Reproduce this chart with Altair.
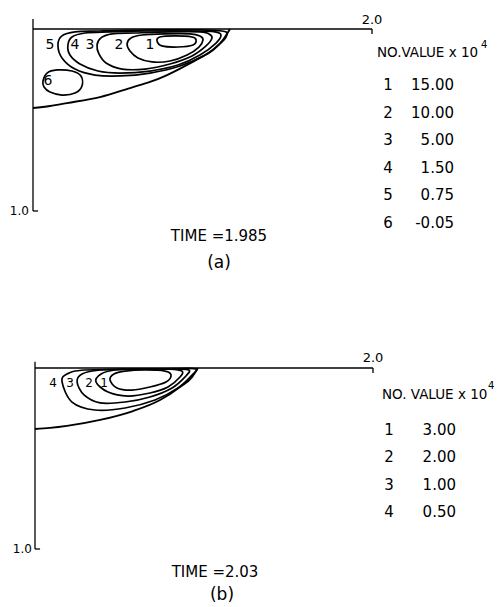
import altair as alt
import pandas as pd

FONT = "DejaVu Sans"

# ---------------- Panel (a): TIME = 1.985 ----------------
# coordinates: x along surface (0..2.0), d = depth downward (0..1.0)
a_outer_x = [0.000, 0.100, 0.201, 0.395, 0.590, 0.690, 0.791, 0.885, 0.985, 1.062, 1.121, 1.162]
a_outer_d = [0.434, 0.423, 0.407, 0.374, 0.319, 0.291, 0.253, 0.209, 0.159, 0.115, 0.060, 0.000]

a_c1_x = [0.732, 0.749, 0.838, 0.938, 0.962, 0.944, 0.855, 0.761]
a_c1_d = [0.066, 0.044, 0.038, 0.044, 0.060, 0.088, 0.099, 0.093]

a_c2_x = [0.555, 0.578, 0.643, 0.779, 0.926, 0.985, 1.003, 0.979, 0.909, 0.808, 0.702, 0.619, 0.572]
a_c2_d = [0.082, 0.049, 0.033, 0.027, 0.027, 0.038, 0.060, 0.099, 0.143, 0.176, 0.181, 0.159, 0.121]

a_c3_x = [0.378, 0.401, 0.466, 0.602, 0.808, 0.985, 1.038, 1.056, 1.021, 0.938, 0.808, 0.661, 0.525, 0.431, 0.389]
a_c3_d = [0.088, 0.049, 0.027, 0.022, 0.016, 0.016, 0.027, 0.049, 0.093, 0.148, 0.192, 0.220, 0.220, 0.187, 0.137]

a_c4_x = [0.206, 0.230, 0.307, 0.454, 0.690, 0.956, 1.074, 1.109, 1.080, 0.985, 0.855, 0.690, 0.513, 0.383, 0.277, 0.218]
a_c4_d = [0.088, 0.044, 0.022, 0.016, 0.011, 0.011, 0.016, 0.033, 0.077, 0.143, 0.198, 0.231, 0.242, 0.231, 0.192, 0.143]

a_c5_x = [0.147, 0.171, 0.248, 0.395, 0.690, 0.985, 1.115, 1.145, 1.115, 1.015, 0.867, 0.690, 0.513, 0.366, 0.248, 0.171]
a_c5_d = [0.088, 0.038, 0.016, 0.011, 0.005, 0.005, 0.011, 0.027, 0.071, 0.143, 0.203, 0.242, 0.258, 0.253, 0.220, 0.159]

a_c6_x = [0.059, 0.083, 0.142, 0.230, 0.283, 0.289, 0.248, 0.171, 0.100, 0.065]
a_c6_d = [0.286, 0.242, 0.225, 0.231, 0.258, 0.313, 0.352, 0.363, 0.346, 0.319]

a_lab_text = ["5", "4", "3", "2", "1", "6"]
a_lab_x = [0.100, 0.248, 0.336, 0.507, 0.690, 0.088]
a_lab_d = [0.088, 0.088, 0.088, 0.088, 0.088, 0.286]

a_leg_no = ["1", "2", "3", "4", "5", "6"]
a_leg_val = ["15.00", "10.00", "5.00", "1.50", "0.75", "-0.05"]

# ---------------- Panel (b): TIME = 2.03 ----------------
b_outer_x = [0.000, 0.089, 0.189, 0.385, 0.580, 0.740, 0.858, 0.929, 0.964]
b_outer_d = [0.337, 0.331, 0.320, 0.287, 0.238, 0.177, 0.105, 0.050, 0.000]

b_c1_x = [0.444, 0.467, 0.533, 0.651, 0.769, 0.805, 0.775, 0.680, 0.574, 0.485]
b_c1_d = [0.066, 0.033, 0.017, 0.011, 0.017, 0.039, 0.077, 0.105, 0.122, 0.110]

b_c2_x = [0.361, 0.391, 0.473, 0.621, 0.799, 0.870, 0.858, 0.787, 0.680, 0.550, 0.432]
b_c2_d = [0.077, 0.033, 0.011, 0.006, 0.006, 0.017, 0.050, 0.105, 0.138, 0.155, 0.133]

b_c3_x = [0.249, 0.278, 0.385, 0.621, 0.828, 0.911, 0.893, 0.811, 0.680, 0.533, 0.385, 0.290]
b_c3_d = [0.077, 0.033, 0.011, 0.006, 0.006, 0.011, 0.044, 0.110, 0.160, 0.188, 0.193, 0.149]

b_c4_x = [0.160, 0.189, 0.296, 0.621, 0.858, 0.953, 0.929, 0.846, 0.710, 0.533, 0.355, 0.219]
b_c4_d = [0.077, 0.033, 0.011, 0.006, 0.003, 0.006, 0.039, 0.110, 0.177, 0.221, 0.232, 0.188]

b_lab_text = ["4", "3", "2", "1"]
b_lab_x = [0.107, 0.207, 0.320, 0.408]
b_lab_d = [0.083, 0.083, 0.083, 0.083]

b_leg_no = ["1", "2", "3", "4"]
b_leg_val = ["3.00", "2.00", "1.00", "0.50"]

# axis extent (data units)
x_end = 2.0
d_end = 1.0


def contours_df(pairs):
    rows = []
    for cid, (xs, ds) in enumerate(pairs):
        for k, (x, d) in enumerate(zip(xs, ds)):
            rows.append({"x": x, "d": d, "cid": cid, "ord": k})
    return pd.DataFrame(rows)


def panel(outer_x, outer_d, contours, lab_text, lab_x, lab_d, lab_size,
          leg_no, leg_val, header, time_text, tag,
          xsc, ysc, W, H, lay):
    X = lambda f: alt.X(f, type="quantitative", scale=xsc, axis=None)
    Y = lambda f: alt.Y(f, type="quantitative", scale=ysc, axis=None)
    layers = []

    # frame (top surface line, left depth line and small end ticks)
    frame = pd.DataFrame({
        "x": [0.0, 0.0, 0.0, x_end],
        "x2": [x_end, 0.0, 0.03, x_end],
        "d": [0.0, lay["axis_top"], d_end, 0.0],
        "d2": [0.0, d_end, d_end, 0.028],
    })
    layers.append(alt.Chart(frame).mark_rule(color="black", strokeWidth=1.3).encode(
        x=X("x"), x2="x2", y=Y("d"), y2="d2"))

    outer = pd.DataFrame({"x": outer_x, "d": outer_d})
    layers.append(alt.Chart(outer).mark_line(color="black", strokeWidth=1.9,
                                              interpolate="monotone").encode(
        x=X("x"), y=Y("d")))

    cdf = contours_df(contours)
    layers.append(alt.Chart(cdf).mark_line(color="black", strokeWidth=1.7,
                                            interpolate="cardinal-closed").encode(
        x=X("x"), y=Y("d"), detail="cid:N", order="ord:Q"))

    labs = pd.DataFrame({"t": lab_text, "x": lab_x, "d": lab_d})
    layers.append(alt.Chart(labs).mark_text(font=FONT, fontSize=lab_size, color="black",
                                             align="center", baseline="middle").encode(
        x=X("x"), y=Y("d"), text="t:N"))

    # tick labels 2.0 and 1.0
    ticks = pd.DataFrame({"t": ["2.0"], "x": [x_end], "d": [lay["lab20_d"]]})
    layers.append(alt.Chart(ticks).mark_text(font=FONT, fontSize=13, color="black",
                                              align="center", baseline="middle").encode(
        x=X("x"), y=Y("d"), text="t:N"))
    ticks1 = pd.DataFrame({"t": ["1.0"], "x": [lay["lab10_x"]], "d": [d_end]})
    layers.append(alt.Chart(ticks1).mark_text(font=FONT, fontSize=12, color="black",
                                               align="right", baseline="middle").encode(
        x=X("x"), y=Y("d"), text="t:N"))

    def txt(s, x, y, size, align="center"):
        return alt.Chart(pd.DataFrame({"t": [s]})).mark_text(
            font=FONT, fontSize=size, color="black", align=align, baseline="middle"
        ).encode(text="t:N", x=alt.value(x), y=alt.value(y))

    layers.append(txt(header, lay["hx"], lay["hy"], 13.5, "left"))
    layers.append(txt("4", lay["sx"], lay["sy"], 10, "left"))
    for i, (n, v) in enumerate(zip(leg_no, leg_val)):
        yy = lay["r0"] + i * lay["rs"]
        layers.append(txt(n, lay["nx"], yy, 15))
        layers.append(txt(v, lay["vx"], yy, 15, "right"))
    layers.append(txt(time_text, lay["tx"], lay["ty"], 15))
    layers.append(txt(tag, lay["gx"], lay["gy"], 17))

    return alt.layer(*layers).properties(width=W, height=H)


W = 498
HA = 304
HB = 303

xs_a = alt.Scale(domain=[-0.19469, 2.74336], nice=False, zero=False)
ys_a = alt.Scale(domain=[-0.15934, 1.51099], reverse=True, nice=False, zero=False)
xs_b = alt.Scale(domain=[-0.20710, 2.73964], nice=False, zero=False)
ys_b = alt.Scale(domain=[-0.35359, 1.32044], reverse=True, nice=False, zero=False)

lay_a = dict(axis_top=-0.055, lab20_d=-0.047, lab10_x=-0.024,
             hx=377, hy=53, sx=481, sy=45, r0=85, rs=27.6, nx=388, vx=454,
             tx=219, ty=236, gx=219, gy=263)
lay_b = dict(axis_top=-0.035, lab20_d=-0.058, lab10_x=-0.018,
             hx=382, hy=91, sx=488, sy=82, r0=126, rs=27.3, nx=389, vx=456,
             tx=215, ty=268, gx=222, gy=291)

pa = panel(a_outer_x, a_outer_d,
           [(a_c1_x, a_c1_d), (a_c2_x, a_c2_d), (a_c3_x, a_c3_d),
            (a_c4_x, a_c4_d), (a_c5_x, a_c5_d), (a_c6_x, a_c6_d)],
           a_lab_text, a_lab_x, a_lab_d, 14,
           a_leg_no, a_leg_val, "NO.VALUE x 10", "TIME =1.985", "(a)",
           xs_a, ys_a, W, HA, lay_a)

pb = panel(b_outer_x, b_outer_d,
           [(b_c1_x, b_c1_d), (b_c2_x, b_c2_d), (b_c3_x, b_c3_d), (b_c4_x, b_c4_d)],
           b_lab_text, b_lab_x, b_lab_d, 12,
           b_leg_no, b_leg_val, "NO. VALUE x 10", "TIME  =2.03", "(b)",
           xs_b, ys_b, W, HB, lay_b)

chart = alt.vconcat(pa, pb, spacing=0).properties(
    padding=0, background="white"
).configure_view(stroke=None)

chart.save("out.html", embed_options={"renderer": "svg", "actions": False})
